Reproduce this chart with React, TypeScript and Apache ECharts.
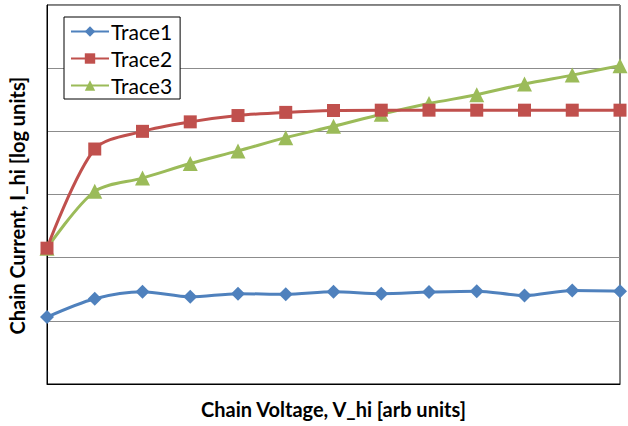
import React, { useEffect, useRef } from "react";
import * as echarts from "echarts";

const xValues = [0, 1, 2, 3, 4, 5, 6, 7, 8, 9, 10, 11, 12];
const trace1 = [1.06, 1.35, 1.46, 1.38, 1.43, 1.42, 1.46, 1.43, 1.455, 1.47, 1.4, 1.48, 1.47];
const trace2 = [2.15, 3.72, 4.0, 4.15, 4.25, 4.3, 4.33, 4.335, 4.335, 4.335, 4.335, 4.335, 4.335];
const trace3 = [2.15, 3.05, 3.26, 3.49, 3.69, 3.9, 4.08, 4.27, 4.44, 4.58, 4.75, 4.89, 5.04];
const seriesNames = ["Trace1", "Trace2", "Trace3"];
const xTitle = "Chain Voltage, V_hi [arb units]";
const yTitle = "Chain Current, I_hi [log units]";

const FONT = "Lato, 'Open Sans', sans-serif";

export default function App() {
  const ref = useRef<HTMLDivElement>(null);
  useEffect(() => {
    if (!ref.current) return;
    const chart = echarts.init(ref.current, undefined, { renderer: "svg" });
    const pairs = (ys: number[]) => xValues.map((x, i) => [x, ys[i]]);
    const colors = ["#4F81BD", "#C0504D", "#9BBB59"];
    const symbols = ["diamond", "rect", "triangle"];
    const sizes = [14, 13, 15];
    const datas = [trace1, trace2, trace3];
    chart.setOption({
      animation: false,
      backgroundColor: "#fff",
      textStyle: { fontFamily: FONT },
      grid: {
        left: 47,
        top: 5,
        right: 8,
        bottom: 42,
        show: true,
        borderColor: "#000",
        borderWidth: 1,
        outerBoundsMode: "none",
        containLabel: false,
      },
      legend: {
        orient: "vertical",
        left: 64,
        top: 17,
        padding: [4, 8, 3, 6],
        itemGap: 6,
        itemWidth: 38,
        itemHeight: 13,
        borderColor: "#000",
        borderWidth: 1,
        backgroundColor: "#fff",
        textStyle: { fontFamily: FONT, fontSize: 21, color: "#000", padding: [0, 0, 0, -3] },
        data: seriesNames,
      },
      xAxis: {
        type: "value",
        min: 0,
        max: 12,
        interval: 1,
        axisLine: { show: true, lineStyle: { color: "#000", width: 1 } },
        axisTick: { show: false },
        axisLabel: { show: false },
        splitLine: { show: false },
        name: xTitle,
        nameLocation: "middle",
        nameGap: 15,
        nameTextStyle: { fontFamily: FONT, fontSize: 20, fontWeight: "bold", color: "#000" },
      },
      yAxis: {
        type: "value",
        min: 0,
        max: 6,
        interval: 1,
        axisLine: { show: true, lineStyle: { color: "#000", width: 1 } },
        axisTick: { show: false },
        axisLabel: { show: false },
        splitLine: { show: true, lineStyle: { color: "#8c8c8c", width: 1 } },
        name: yTitle,
        nameLocation: "middle",
        nameGap: 20,
        nameTextStyle: {
          fontFamily: FONT,
          fontSize: 20,
          fontWeight: "bold",
          color: "#000",
          padding: [0, 22, 0, 0],
        },
      },
      series: seriesNames.map((name, k) => ({
        name,
        type: "line",
        data: pairs(datas[k]),
        smooth: 0.3,
        symbol: symbols[k],
        symbolSize: sizes[k],
        showAllSymbol: true,
        clip: false,
        lineStyle: { color: colors[k], width: 3 },
        itemStyle: { color: colors[k] },
        z: 3 - k,
      })),
    });
    return () => chart.dispose();
  }, []);
  return (
    <div
      ref={ref}
      style={{ position: "fixed", left: 0, top: 0, width: 628, height: 426 }}
    />
  );
}
